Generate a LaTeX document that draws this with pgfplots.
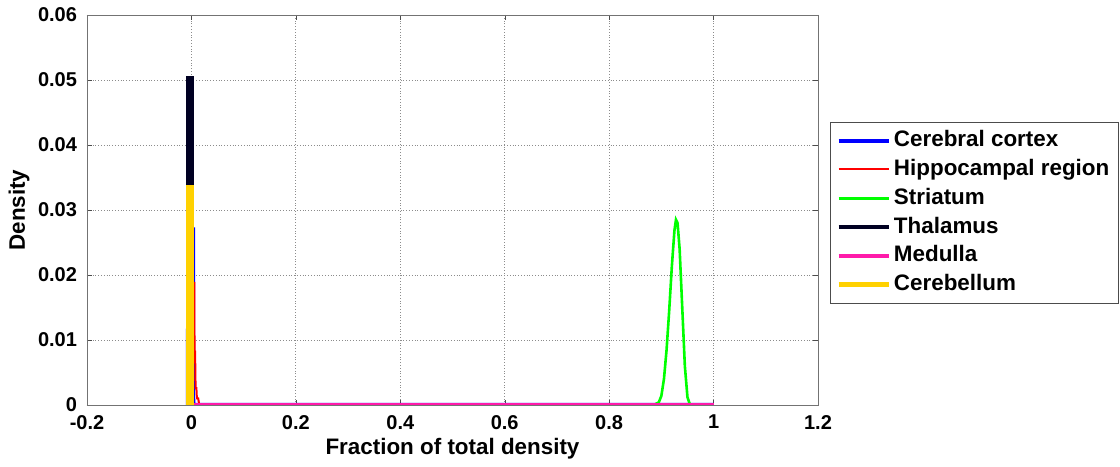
\documentclass[border=0pt]{standalone}
\usepackage{fontspec}
\setmainfont{Liberation Sans}
\usepackage{pgfplots}
\pgfplotsset{compat=1.18}

\definecolor{cortex}{RGB}{0,0,255}
\definecolor{hippo}{RGB}{255,0,0}
\definecolor{striat}{RGB}{0,255,0}
\definecolor{thal}{RGB}{0,0,34}
\definecolor{medul}{RGB}{255,26,170}
\definecolor{cereb}{RGB}{255,209,0}

\begin{document}
\begin{tikzpicture}
\begin{axis}[
  width=365.5pt, height=195pt, scale only axis,
  xmin=-0.2, xmax=1.2, ymin=0, ymax=0.06,
  xtick={-0.2,0,0.2,0.4,0.6,0.8,1,1.2},
  xticklabels={-0.2,0,0.2,0.4,0.6,0.8,1,1.2},
  ytick={0,0.01,0.02,0.03,0.04,0.05,0.06},
  yticklabels={0,0.01,0.02,0.03,0.04,0.05,0.06},
  scaled y ticks=false,
  tick pos=both, tick align=inside,
  major tick length=2.5pt,
  axis line style={black!55},
  tick style={black!70},
  grid=major,
  grid style={black!45, densely dotted, line width=0.4pt},
  tick label style={font=\bfseries\fontsize{10}{12}\selectfont},
  xticklabel style={yshift=-1.5pt},
  yticklabel style={xshift=-1.5pt},
  xlabel={Fraction of total density},
  ylabel={Density},
  label style={font=\bfseries\fontsize{11.2}{13}\selectfont},
  xlabel style={at={([yshift=-22pt]rel axis cs:0.5,0)}, anchor=center},
  ylabel style={at={([xshift=-34pt]rel axis cs:0,0.5)}, anchor=center},
  legend cell align=left,
  legend style={at={(1.0164,0.726)}, anchor=north west,
    draw=black!70, inner xsep=3pt, inner ysep=2pt,
    font=\bfseries\fontsize{11.2}{13}\selectfont,
    nodes={inner sep=1.6pt, text height=8.6pt, text depth=2.6pt}},
  legend image code/.code={\draw[#1] (0pt,0pt) -- (25pt,0pt);},
]
% Cerebral cortex
\addplot[cortex, line width=2pt] coordinates {
  (-0.007,0) (-0.006,0.027) (0.0032,0.027) (0.0035,0) (1,0)};
\addlegendentry{Cerebral cortex}
% Hippocampal region
\addplot[hippo, line width=1pt] coordinates {
  (-0.004,0) (-0.003,0.0188) (0.0055,0.0188) (0.006,0.0082)
  (0.007,0.0082) (0.008,0.0026) (0.0095,0.0026) (0.0105,0.001)
  (0.0130,0.001) (0.015,0) (1,0)};
\addlegendentry{Hippocampal region}
% Striatum
\addplot[striat, line width=1.3pt] coordinates {
  (0,0) (0.885,0) (0.895,0.0004) (0.900,0.0014) (0.905,0.0040)
  (0.910,0.0085) (0.915,0.0145) (0.920,0.0212) (0.925,0.0268)
  (0.928,0.0285) (0.931,0.0280) (0.935,0.0240) (0.940,0.0150)
  (0.945,0.0060) (0.950,0.0012) (0.955,0) (1,0)};
\addlegendentry{Striatum}
% Thalamus
\addplot[thal, line width=2.2pt] coordinates {
  (-0.007,0) (-0.007,0.0503) (0.000,0.0503) (0.000,0) (1,0)};
\addlegendentry{Thalamus}
% Medulla
\addplot[medul, line width=2pt] coordinates {
  (0.004,0) (0.2,0) (0.4,0) (0.6,0) (0.8,0) (1,0)};
\addlegendentry{Medulla}
% Cerebellum
\addplot[cereb, line width=2.2pt] coordinates {
  (-0.007,0) (-0.007,0.0335) (0.000,0.0335) (0.000,0)};
\addlegendentry{Cerebellum}
\coordinate (bl) at (rel axis cs:0,0);
\coordinate (tr) at (rel axis cs:1,1);
\end{axis}
\path ([xshift=-43.5pt,yshift=-30pt]bl) rectangle ([xshift=151pt,yshift=7.5pt]tr);
\end{tikzpicture}
\end{document}
